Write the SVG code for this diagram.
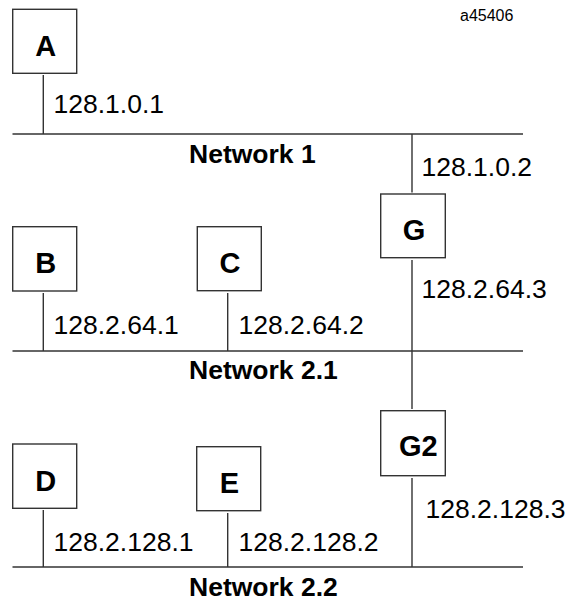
<svg xmlns="http://www.w3.org/2000/svg" width="569" height="601" viewBox="0 0 569 601">
<style>
.box{fill:#fff;stroke:#333;stroke-width:1.4}
.ln{stroke:#333;stroke-width:1.4;fill:none}
.lbl{font-family:"Liberation Sans",Arial,sans-serif;font-weight:bold;font-size:29px;fill:#000;text-anchor:middle}
.ip{font-family:"Liberation Sans",Arial,sans-serif;font-size:26.5px;fill:#000}
.net{font-family:"Liberation Sans",Arial,sans-serif;font-weight:bold;font-size:26.5px;fill:#000}
.tag{font-family:"Liberation Sans",Arial,sans-serif;font-size:16px;fill:#000}
</style>
<rect width="569" height="601" fill="#fff"/>
<text class="tag" x="460" y="21">a45406</text>
<g id="connectors">
<line class="ln" x1="12.5" y1="134" x2="523" y2="134"/>
<line class="ln" x1="12.5" y1="351" x2="523" y2="351"/>
<line class="ln" x1="12.5" y1="567" x2="523" y2="567"/>
<line class="ln" x1="43.3" y1="75" x2="43.3" y2="134"/>
<line class="ln" x1="412" y1="134" x2="412" y2="192.5"/>
<line class="ln" x1="412" y1="260" x2="412" y2="409"/>
<line class="ln" x1="43.3" y1="293" x2="43.3" y2="351"/>
<line class="ln" x1="227.7" y1="293" x2="227.7" y2="351"/>
<line class="ln" x1="43.3" y1="510" x2="43.3" y2="567"/>
<line class="ln" x1="227.7" y1="513" x2="227.7" y2="567"/>
<line class="ln" x1="412" y1="478" x2="412" y2="567"/>
</g>
<g id="A"><rect class="box" x="12.7" y="9.3" width="64" height="64"/><text class="lbl" x="45.7" y="56">A</text></g>
<g id="G"><rect class="box" x="380.7" y="194" width="64.6" height="63.7"/><text class="lbl" x="414" y="240">G</text></g>
<g id="B"><rect class="box" x="12.7" y="226.7" width="64" height="64.3"/><text class="lbl" x="45.7" y="273.3">B</text></g>
<g id="C"><rect class="box" x="197.3" y="226.7" width="64" height="64"/><text class="lbl" x="230" y="273.3">C</text></g>
<g id="G2"><rect class="box" x="380.7" y="410.7" width="64.6" height="65"/><text class="lbl" x="418.3" y="456">G2</text></g>
<g id="D"><rect class="box" x="12.7" y="444" width="64" height="64.3"/><text class="lbl" x="45.7" y="490.5">D</text></g>
<g id="E"><rect class="box" x="196.7" y="446.7" width="64" height="64"/><text class="lbl" x="229.5" y="493">E</text></g>
<g id="labels">
<text class="ip" x="53.5" y="113">128.1.0.1</text>
<text class="ip" x="421.5" y="176">128.1.0.2</text>
<text class="ip" x="53.5" y="334">128.2.64.1</text>
<text class="ip" x="238.5" y="334">128.2.64.2</text>
<text class="ip" x="421.5" y="298">128.2.64.3</text>
<text class="ip" x="53.5" y="550.7">128.2.128.1</text>
<text class="ip" x="238.5" y="550.7">128.2.128.2</text>
<text class="ip" x="425.5" y="517.7">128.2.128.3</text>
<text class="net" x="189" y="163.3">Network 1</text>
<text class="net" x="189" y="379.3">Network 2.1</text>
<text class="net" x="189" y="596">Network 2.2</text>
</g>
</svg>
